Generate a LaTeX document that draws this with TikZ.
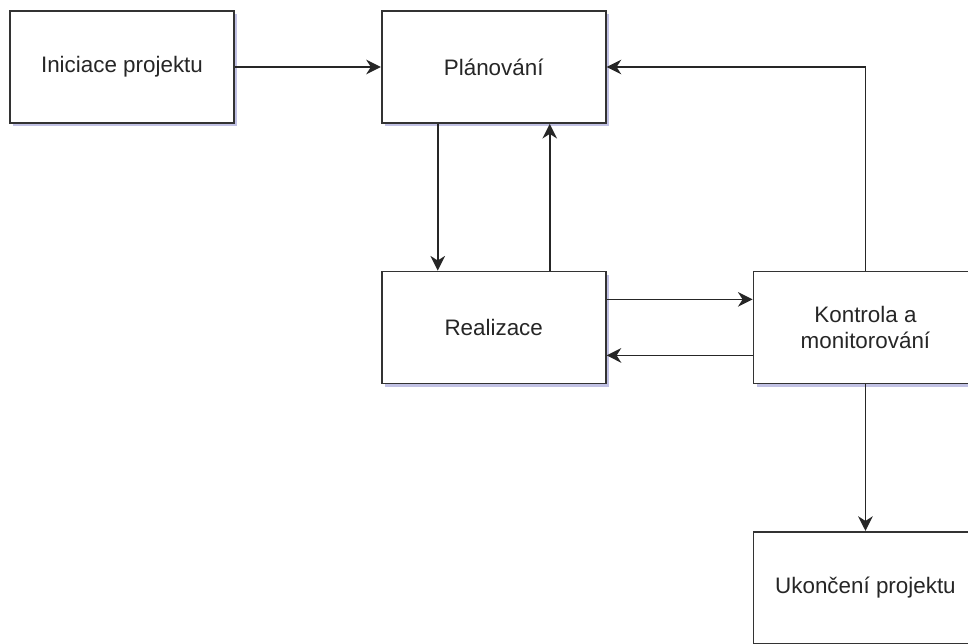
\documentclass[tikz,border=0pt]{standalone}
\usepackage{fontspec}
\setmainfont{Liberation Sans}
\usetikzlibrary{positioning, arrows.meta, shadows}

\begin{document}
\begin{tikzpicture}[
    node distance=110pt and 109.5pt,
    block/.style={
        rectangle,
        draw=black!80,
        fill=white,
        line width=1.3pt,
        text=black!85,
        minimum width=168pt,
        minimum height=84pt,
        align=center,
        font=\fontsize{16.8}{19.5}\selectfont,
        drop shadow={shadow xshift=2.5pt, shadow yshift=-2.5pt, fill=blue!40!gray, opacity=0.35}
    },
    arrow/.style={-{Stealth[length=11pt, width=11pt, inset=3.5pt]}, line width=1.2pt, draw=black!85}
]

% Frame of the picture
\useasboundingbox (-91.5pt,50.25pt) rectangle (634.5pt,-432pt);

% Start
\node (ini) [block] at (0,0) {Iniciace projektu};

% Planning
\node (plan) [block, right=of ini] {Plánování};

% Execution
\node (real) [block, below=of plan] {Realizace};

% Control
\node (kontr) [block, right=of real] {Kontrola a\\monitorování};

% Closing
\node (ukon) [block, below=of kontr] {Ukončení projektu};

% Connections
\draw [arrow] (ini) -- (plan);
\draw [arrow] ([xshift=-42pt]plan.south) -- ([xshift=-42pt]real.north);
\draw [arrow] ([xshift=42pt]real.north) -- ([xshift=42pt]plan.south);
\draw [arrow] ([yshift=21pt]real.east) -- ([yshift=21pt]kontr.west);
\draw [arrow] ([yshift=-21pt]kontr.west) -- ([yshift=-21pt]real.east);
\draw [arrow] (kontr.north) |- (plan.east);
\draw [arrow] (kontr) -- (ukon);

\end{tikzpicture}
\end{document}
